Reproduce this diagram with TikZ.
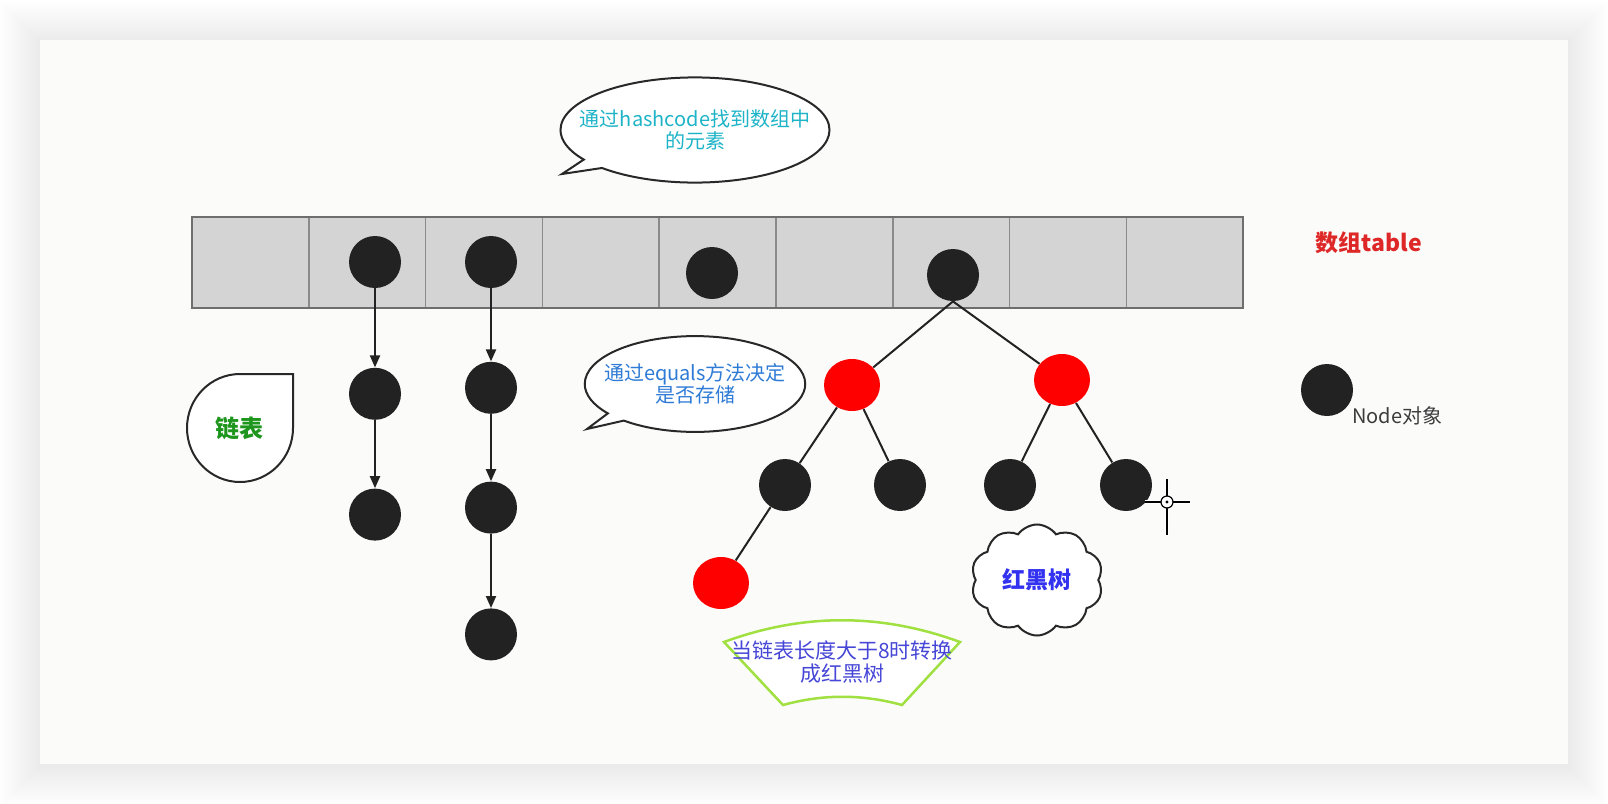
\documentclass[tikz,border=0pt]{standalone}
\usepackage{fontspec}
\setmainfont{Noto Sans CJK SC}
\usetikzlibrary{positioning,shapes.geometric,shapes.callouts,shapes.symbols,arrows.meta}
\definecolor{NodeBlack}{RGB}{34,34,34}
\definecolor{TreeRed}{RGB}{255,0,0}
\definecolor{CellGray}{RGB}{212,212,212}
\definecolor{CellLine}{RGB}{138,138,138}
\definecolor{BubbleLine}{RGB}{40,40,40}
\definecolor{HashCyan}{RGB}{30,180,200}
\definecolor{EqualsBlue}{RGB}{46,123,214}
\definecolor{ListGreen}{RGB}{30,150,30}
\definecolor{TableRed}{RGB}{222,40,40}
\definecolor{TreeBlue}{RGB}{50,50,240}
\definecolor{FanBlue}{RGB}{70,70,215}
\definecolor{FanGreen}{RGB}{160,224,64}
\definecolor{CardWhite}{RGB}{251,252,250}
\definecolor{LegendGray}{RGB}{60,60,60}

\begin{document}
\begin{tikzpicture}[x=0.5pt,y=-0.5pt,
    hnode/.style={circle,fill=NodeBlack,inner sep=0pt,minimum size=26pt},
    rnode/.style={ellipse,fill=TreeRed,inner sep=0pt,minimum width=28pt,minimum height=26pt},
    link/.style={-{Triangle[length=6pt,width=5pt]},line width=1pt,draw=NodeBlack},
    treeline/.style={line width=1pt,draw=NodeBlack},
    bubble/.style={ellipse callout,draw=BubbleLine,line width=1pt,fill=white,align=center,callout pointer arc=12,font=\fontsize{10}{11}\selectfont},
    cell/.style={fill=CellGray,draw=CellLine,line width=0.75pt}
]
\useasboundingbox (0,0) rectangle (1608,804);

% Card and its shadow
\foreach \s in {1,...,20}
  \fill[black,opacity=0.0035] (40-2*\s,42-2*\s) rectangle (1568+2*\s,766+2*\s);
\fill[CardWhite] (40,40) rectangle (1568,764);

% Array table
\foreach \i in {0,...,8}
  \draw[cell] (192+\i*116.8,217) rectangle ++(116.8,91);
\draw[CellLine!80!black,line width=0.9pt] (192,217) rectangle (1243,308);

\node[font=\fontsize{11.5}{13}\selectfont\bfseries,text=TableRed] (table-label) at (1369,243) {数组table};

% Nodes in the table
\node[hnode] (slot-2) at (375,262) {};
\node[hnode] (slot-3) at (491,262) {};
\node[hnode] (slot-5) at (712,273) {};
\node[hnode] (slot-7) at (953,275) {};

% Linked lists
\node[hnode,below=39.5pt of slot-2] (list-a1) {};
\node[hnode,below=34pt of list-a1] (list-a2) {};
\draw[link] (slot-2) -- (list-a1);
\draw[link] (list-a1) -- (list-a2);

\node[hnode,below=36.5pt of slot-3] (list-b1) {};
\node[hnode,below=33.5pt of list-b1] (list-b2) {};
\node[hnode,below=37pt of list-b2] (list-b3) {};
\draw[link] (slot-3) -- (list-b1);
\draw[link] (list-b1) -- (list-b2);
\draw[link] (list-b2) -- (list-b3);

% Red-black tree
\node[rnode] (red-l) at (852,385) {};
\node[rnode] (red-r) at (1062,380) {};
\node[hnode] (leaf-1) at (785,485) {};
\node[hnode] (leaf-2) at (900,485) {};
\node[hnode] (leaf-3) at (1010,485) {};
\node[hnode] (leaf-4) at (1126,485) {};
\node[rnode] (red-low) at (721,583) {};

\draw[treeline] (slot-7.south) -- (red-l);
\draw[treeline] (slot-7.south) -- (red-r);
\draw[treeline] (red-l) -- (leaf-1);
\draw[treeline] (red-l) -- (leaf-2);
\draw[treeline] (red-r) -- (leaf-3);
\draw[treeline] (red-r) -- (leaf-4);
\draw[treeline] (leaf-1) -- (red-low);

% Speech bubbles
\node[bubble,text=HashCyan,inner xsep=-10pt,inner ysep=8.5pt,
  callout absolute pointer={(562,174)}] (hash-bubble) at (695,130)
  {通过hashcode找到数组中\\的元素};
\node[bubble,text=EqualsBlue,inner xsep=-6.5pt,inner ysep=6.8pt,
  callout absolute pointer={(587,429)}] (equals-bubble) at (695,384)
  {通过equals方法决定\\是否存储};

% Linked list label
\draw[BubbleLine,line width=1pt,fill=white] (293,374) -- (240,374)
  .. controls (211,374) and (187,398) .. (187,428)
  .. controls (187,458) and (211,482) .. (240,482)
  .. controls (269,482) and (293,458) .. (293,428) -- cycle;
\node[font=\fontsize{12}{14}\selectfont\bfseries,text=ListGreen] (list-label) at (239,428) {链表};

% Tree label
\node[cloud,cloud puffs=10,cloud puff arc=110,aspect=1.2,draw=BubbleLine,line width=1pt,fill=white,
  minimum width=66pt,minimum height=53pt,font=\fontsize{11.5}{13}\selectfont\bfseries,text=TreeBlue] (tree-label) at (1037,580) {红黑树};

% Conversion note
\draw[FanGreen,line width=1.25pt,fill=white] (724,642)
  .. controls (803,613) and (881,613) .. (960,642) -- (902,705)
  .. controls (862,694) and (823,694) .. (783,705) -- cycle;
\node[align=center,text=FanBlue,font=\fontsize{10.5}{11.5}\selectfont] (fan-label) at (842,662)
  {当链表长度大于8时转换\\成红黑树};

% Legend
\node[hnode] (legend-node) at (1327,390) {};
\node[anchor=west,inner sep=0pt,text=LegendGray,font=\fontsize{10}{12}\selectfont] (legend-label) at (1352,416) {Node对象};

% Mouse cursor
\draw[white,line width=2pt] (1167,479) -- (1167,535) (1145,502) -- (1190,502);
\draw[black,line width=0.7pt] (1167,479) -- (1167,535) (1145,502) -- (1190,502);
\draw[black,fill=white,line width=0.6pt] (1167,502) circle (3pt);
\fill[black] (1167,502) circle (0.8pt);
\end{tikzpicture}
\end{document}
